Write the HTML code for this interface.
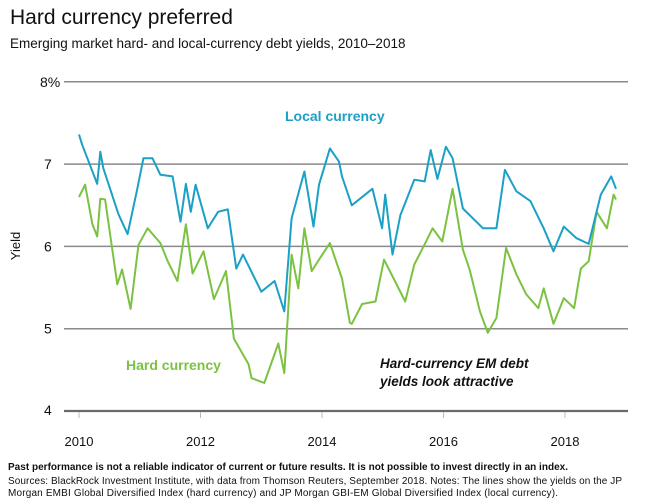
<!DOCTYPE html>
<html><head><meta charset="utf-8"><style>
body{margin:0;background:#fff;}
svg{display:block;font-family:"Liberation Sans",sans-serif;}
</style></head><body>
<svg id="chart" width="648" height="503" viewBox="0 0 648 503">
<text x="10" y="24" font-size="21" fill="#111">Hard currency preferred</text>
<text x="10" y="48" font-size="13.5" fill="#111">Emerging market hard- and local-currency debt yields, 2010–2018</text>
<text transform="translate(20,246) rotate(-90)" text-anchor="middle" font-size="13" fill="#111">Yield</text>
<g id="grid"></g>
<g id="series"></g>
<text x="285" y="121" font-size="14" font-weight="bold" fill="#1ba0c6">Local currency</text>
<text x="126" y="370" font-size="14" font-weight="bold" fill="#7cc242">Hard currency</text>
<text x="380" y="368" font-size="13.5" font-weight="bold" font-style="italic" fill="#111">Hard-currency EM debt</text>
<text x="380" y="386" font-size="13.5" font-weight="bold" font-style="italic" fill="#111">yields look attractive</text>
<text x="8" y="470" font-size="10" font-weight="bold" fill="#111" textLength="560">Past performance is not a reliable indicator of current or future results. It is not possible to invest directly in an index.</text>
<text x="8" y="484" font-size="10" fill="#111" textLength="614">Sources: BlackRock Investment Institute, with data from Thomson Reuters, September 2018. Notes: The lines show the yields on the JP</text>
<text x="8" y="496" font-size="10" fill="#111" textLength="550">Morgan EMBI Global Diversified Index (hard currency) and JP Morgan GBI-EM Global Diversified Index (local currency).</text>
</svg>
<script>
const yTicks=[4,5,6,7,8];
const yTickLabels=["4","5","6","7","8%"];
const xTicks=[2010,2012,2014,2016,2018];
const localDates=[2010.0,2010.05,2010.3,2010.35,2010.4,2010.65,2010.8,2010.96,2011.06,2011.21,2011.34,2011.54,2011.67,2011.76,2011.84,2011.92,2012.12,2012.29,2012.45,2012.59,2012.7,2013.0,2013.22,2013.38,2013.5,2013.71,2013.86,2013.95,2014.13,2014.28,2014.33,2014.49,2014.83,2014.99,2015.04,2015.16,2015.29,2015.52,2015.69,2015.79,2015.9,2016.04,2016.15,2016.32,2016.65,2016.87,2017.01,2017.2,2017.43,2017.65,2017.81,2017.98,2018.19,2018.39,2018.59,2018.76,2018.84];
const localVals=[7.36,7.24,6.76,7.15,6.95,6.39,6.15,6.7,7.07,7.07,6.87,6.85,6.3,6.76,6.42,6.75,6.22,6.42,6.45,5.73,5.9,5.45,5.58,5.21,6.34,6.91,6.24,6.75,7.19,7.03,6.85,6.5,6.7,6.22,6.63,5.9,6.38,6.81,6.79,7.17,6.82,7.21,7.07,6.46,6.22,6.22,6.93,6.67,6.55,6.22,5.94,6.24,6.1,6.03,6.63,6.85,6.7];
const hardDates=[2010.0,2010.1,2010.22,2010.3,2010.35,2010.43,2010.63,2010.71,2010.85,2010.98,2011.13,2011.34,2011.46,2011.62,2011.76,2011.87,2012.05,2012.22,2012.42,2012.55,2012.79,2012.84,2013.05,2013.28,2013.38,2013.5,2013.61,2013.71,2013.83,2013.96,2014.13,2014.33,2014.46,2014.49,2014.66,2014.88,2015.02,2015.2,2015.37,2015.52,2015.7,2015.82,2015.98,2016.15,2016.32,2016.43,2016.6,2016.73,2016.87,2017.03,2017.2,2017.36,2017.56,2017.65,2017.81,2017.98,2018.15,2018.26,2018.39,2018.52,2018.69,2018.8,2018.84];
const hardVals=[6.6,6.75,6.27,6.12,6.58,6.57,5.54,5.72,5.24,6.02,6.22,6.04,5.82,5.58,6.27,5.67,5.94,5.36,5.7,4.88,4.57,4.4,4.34,4.82,4.46,5.9,5.49,6.22,5.7,5.85,6.04,5.61,5.07,5.06,5.3,5.33,5.84,5.58,5.33,5.78,6.04,6.22,6.06,6.7,5.96,5.72,5.21,4.95,5.13,5.98,5.66,5.42,5.25,5.49,5.06,5.37,5.25,5.73,5.82,6.42,6.22,6.63,6.57];
const NS="http://www.w3.org/2000/svg";
const x0=64,x1=628;
function xs(d){return 79+(d-2010)*60.75;}
function ys(v){return 411-(v-4)*82.3;}
const grid=document.getElementById('grid');
yTicks.forEach((t,i)=>{
  const l=document.createElementNS(NS,'line');
  l.setAttribute('x1',x0);l.setAttribute('x2',x1);l.setAttribute('y1',ys(t));l.setAttribute('y2',ys(t));
  l.setAttribute('stroke',i===0?'#6a6a6a':'#8a8a8a');l.setAttribute('stroke-width',i===0?2.2:1.5);
  
  
  grid.appendChild(l);
  const tx=document.createElementNS(NS,'text');
  tx.setAttribute('x',i===4?40:44);tx.setAttribute('y',ys(t)+(i===0?4:5));
  tx.setAttribute('font-size','14');tx.setAttribute('fill','#111');
  tx.textContent=yTickLabels[i];
  
  
  grid.appendChild(tx);
});
xTicks.forEach(t=>{
  const l=document.createElementNS(NS,'line');
  l.setAttribute('x1',xs(t));l.setAttribute('x2',xs(t));l.setAttribute('y1',412);l.setAttribute('y2',418);
  l.setAttribute('stroke','#bbb');l.setAttribute('stroke-width',1);
  
  
  grid.appendChild(l);
  const tx=document.createElementNS(NS,'text');
  tx.setAttribute('x',xs(t));tx.setAttribute('y',446);tx.setAttribute('text-anchor','middle');
  tx.setAttribute('font-size','13');tx.setAttribute('fill','#111');
  tx.textContent=t;
  
  
  grid.appendChild(tx);
});
const ser=document.getElementById('series');
function line(d,v,c,name){
  const p=document.createElementNS(NS,'polyline');
  p.setAttribute('points',d.map((dd,i)=>xs(dd).toFixed(1)+','+ys(v[i]).toFixed(1)).join(' '));
  p.setAttribute('fill','none');p.setAttribute('stroke',c);p.setAttribute('stroke-width',2);p.setAttribute('stroke-linejoin','round');
  
  
  ser.appendChild(p);
}
line(hardDates,hardVals,'#7cc242','hard-currency-line');
line(localDates,localVals,'#1ba0c6','local-currency-line');
</script>
</body></html>
